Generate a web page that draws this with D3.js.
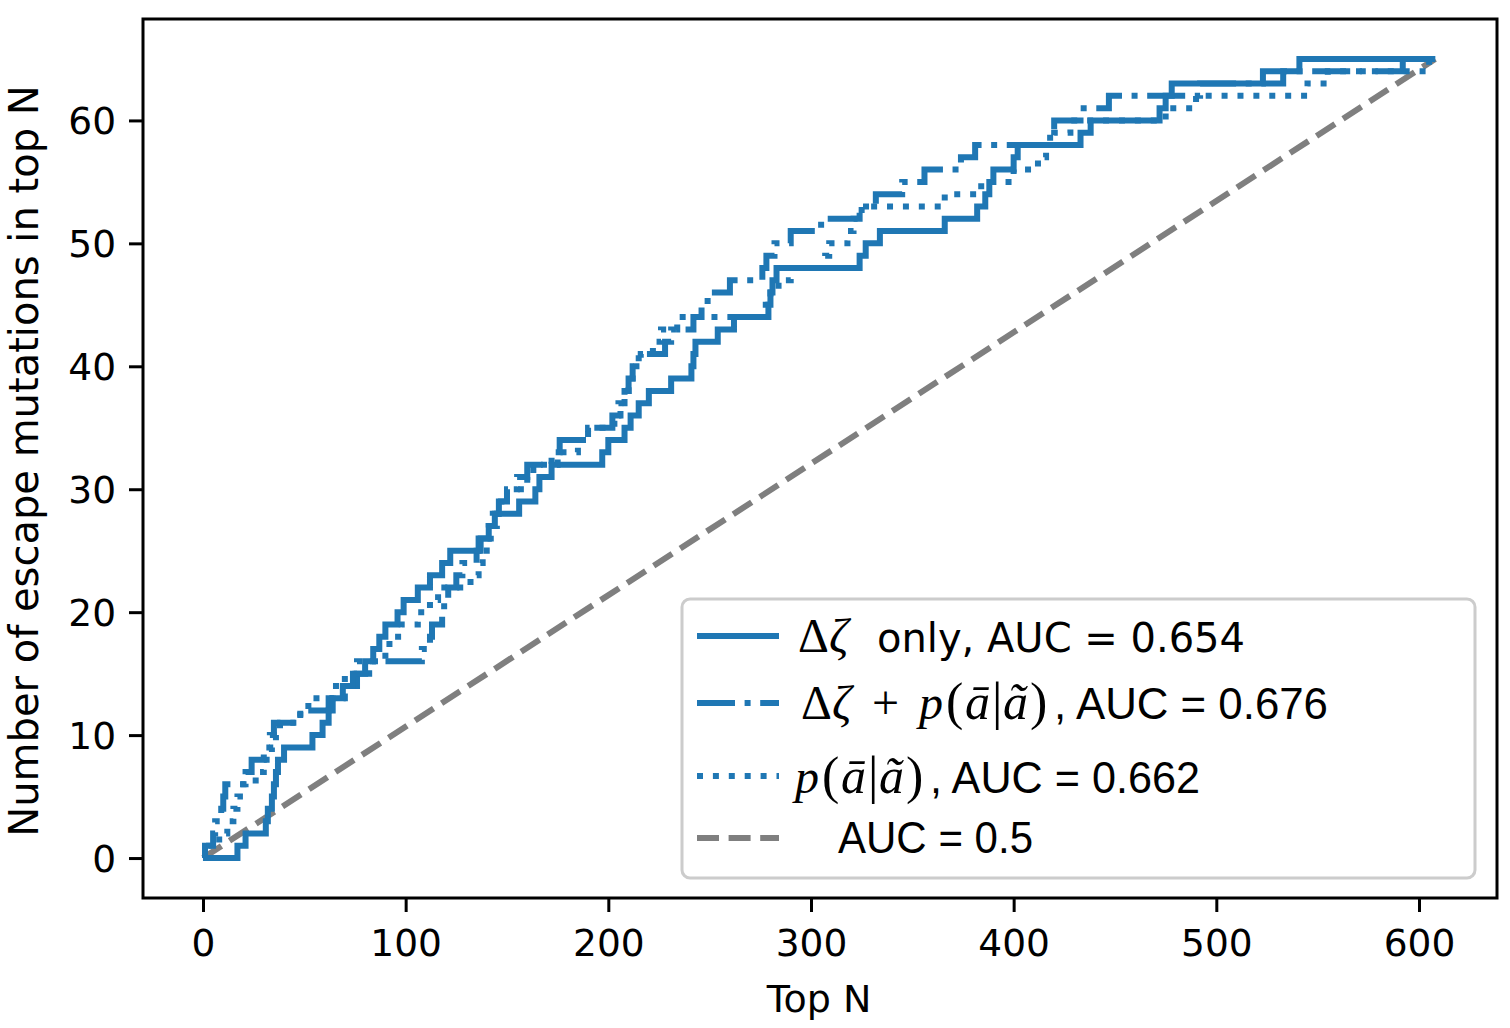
<!DOCTYPE html>
<html>
<head>
<meta charset="utf-8">
<script src="https://cdn.jsdelivr.net/npm/d3@7"></script>
<style>
  body { margin: 0; background: #fff; }
  text { font-family: "DejaVu Sans", sans-serif; }
</style>
</head>
<body>
<svg id="chart" width="1510" height="1028"></svg>
<script>
// step data: N where the count steps up, and the new count
const zetaN     = [0, 17, 21, 31, 32, 34, 35, 36, 37, 40, 54, 59, 62, 64, 69, 74, 80, 84, 87, 90, 96, 99, 106, 112, 118, 122, 136, 141, 144, 156, 164, 166, 172, 197, 200, 208, 211, 215, 220, 231, 241, 242, 243, 254, 262, 279, 280, 281, 283, 324, 327, 334, 366, 382, 386, 388, 390, 400, 402, 433, 438, 472, 475, 478, 523, 541, 608];
const zetaCount = [0, 1, 2, 3, 4, 5, 6, 7, 8, 9, 10, 11, 12, 13, 14, 15, 16, 17, 18, 19, 20, 21, 22, 23, 24, 25, 26, 27, 28, 29, 30, 31, 32, 33, 34, 35, 36, 37, 38, 39, 40, 41, 42, 43, 44, 45, 46, 47, 48, 49, 50, 51, 52, 53, 54, 55, 56, 57, 58, 59, 60, 61, 62, 63, 64, 65, 65];

const bothN     = [0, 1, 5, 6, 9, 10, 11, 21, 24, 30, 33, 35, 48, 62, 70, 76, 82, 108, 112, 113, 118, 119, 121, 125, 128, 135, 137, 141, 143, 146, 150, 155, 160, 172, 176, 190, 202, 205, 208, 210, 212, 215, 228, 231, 242, 246, 249, 260, 276, 278, 282, 290, 305, 324, 332, 345, 356, 374, 381, 418, 420, 433, 447, 492, 533, 592, 608];
const bothCount = [0, 1, 2, 3, 4, 5, 6, 7, 8, 9, 10, 11, 12, 13, 14, 15, 16, 17, 18, 19, 20, 21, 22, 23, 24, 25, 26, 27, 28, 29, 30, 31, 32, 33, 34, 35, 36, 37, 38, 39, 40, 41, 42, 43, 44, 45, 46, 47, 48, 49, 50, 51, 52, 53, 54, 55, 56, 57, 58, 59, 60, 61, 62, 63, 64, 65, 65];

const probN     = [0, 3, 8, 12, 15, 17, 20, 26, 30, 34, 36, 38, 48, 52, 64, 70, 76, 90, 92, 98, 106, 112, 116, 132, 136, 138, 140, 142, 145, 147, 150, 160, 163, 175, 185, 190, 203, 206, 208, 210, 212, 216, 222, 226, 234, 276, 280, 284, 290, 307, 309, 318, 321, 325, 366, 384, 400, 412, 416, 420, 428, 475, 490, 545, 555, 605, 608];
const probCount = [0, 1, 2, 3, 4, 5, 6, 7, 8, 9, 10, 11, 12, 13, 14, 15, 16, 17, 18, 19, 20, 21, 22, 23, 24, 25, 26, 27, 28, 29, 30, 31, 32, 33, 34, 35, 36, 37, 38, 39, 40, 41, 42, 43, 44, 45, 46, 47, 48, 49, 50, 51, 52, 53, 54, 55, 56, 57, 58, 59, 60, 61, 62, 63, 64, 65, 65];

const randomN     = [0, 608];
const randomCount = [0, 65];

const xTicks = [0, 100, 200, 300, 400, 500, 600];
const yTicks = [0, 10, 20, 30, 40, 50, 60];

const blue = "#1f77b4";
const grey = "#7f7f7f";

const svg = d3.select("#chart");
svg.append("rect").attr("width", 1510).attr("height", 1028).attr("fill", "#fff");

const plot = { left: 143, right: 1497, top: 19, bottom: 898 };

const x = d3.scaleLinear().domain([-29.6, 638.5]).range([plot.left, plot.right]);
const y = d3.scaleLinear().domain([-3.25, 68.25]).range([plot.bottom, plot.top]);

const zip = (xs, ys) => xs.map((v, i) => [v, ys[i]]);

const stepLine = d3.line()
  .x(d => x(d[0]))
  .y(d => y(d[1]))
  .curve(d3.curveStepAfter);

const straight = d3.line().x(d => x(d[0])).y(d => y(d[1]));

const series = [
  { data: zip(zetaN, zetaCount), dash: null, color: blue, w: 6, line: stepLine },
  { data: zip(bothN, bothCount), dash: "38,9.6,6,9.6", color: blue, w: 6, line: stepLine },
  { data: zip(probN, probCount), dash: "6,9.9", color: blue, w: 6, line: stepLine },
  { data: zip(randomN, randomCount), dash: "22,9.6", color: grey, w: 6, line: straight }
];

series.slice().reverse().forEach(s => {
  svg.append("path")
    .datum(s.data)
    .attr("d", s.line)
    .attr("fill", "none")
    .attr("stroke", s.color)
    .attr("stroke-width", s.w)
    .attr("stroke-linecap", "butt")
    .attr("stroke-linejoin", "miter")
    .attr("stroke-dasharray", s.dash);
});

// axes
const xAxis = svg.append("g")
  .attr("transform", `translate(0,${plot.bottom})`)
  .call(d3.axisBottom(x).tickValues(xTicks).tickSize(14).tickPadding(15));
const yAxis = svg.append("g")
  .attr("transform", `translate(${plot.left},0)`)
  .call(d3.axisLeft(y).tickValues(yTicks).tickSize(14).tickPadding(13));

[xAxis, yAxis].forEach(g => {
  g.select(".domain").remove();
  g.selectAll(".tick line").attr("stroke", "#000").attr("stroke-width", 3);
  g.selectAll(".tick text")
    .attr("fill", "#000")
    .style("font-family", "DejaVu Sans")
    .style("font-size", "37.5px");
});
xAxis.selectAll(".tick text").attr("dy", "0.78em");
yAxis.selectAll(".tick text").attr("dy", "0.36em");

svg.append("rect")
  .attr("x", plot.left).attr("y", plot.top)
  .attr("width", plot.right - plot.left).attr("height", plot.bottom - plot.top)
  .attr("fill", "none").attr("stroke", "#000").attr("stroke-width", 3);

svg.append("text")
  .attr("x", 819).attr("y", 1012)
  .attr("text-anchor", "middle")
  .style("font-size", "38px")
  .text("Top N");

svg.append("text")
  .attr("transform", "translate(38,461) rotate(-90)")
  .attr("text-anchor", "middle")
  .style("font-size", "40px")
  .text("Number of escape mutations in top N");

// legend
const legend = svg.append("g");
legend.append("rect")
  .attr("x", 682).attr("y", 599).attr("width", 793).attr("height", 279)
  .attr("rx", 8).attr("ry", 8)
  .attr("fill", "#fff").attr("fill-opacity", 0.8)
  .attr("stroke", "#cccccc").attr("stroke-width", 3);

const handleY = [636, 703, 776, 838];
series.forEach((s, i) => {
  legend.append("line")
    .attr("x1", 697).attr("x2", 779)
    .attr("y1", handleY[i]).attr("y2", handleY[i])
    .attr("stroke", s.color).attr("stroke-width", s.w)
    .attr("stroke-dasharray", s.dash);
});

const serif = "Liberation Serif, DejaVu Serif, serif";
function mathText(glyphs, baseline) {
  const t = legend.append("text")
    .attr("y", baseline)
    .style("font-family", serif)
    .style("font-size", "48px");
  glyphs.forEach(g => {
    t.append("tspan")
      .attr("x", g[1])
      .style("font-style", g[2] ? "italic" : "normal")
      .style("font-size", g[3] ? g[3] + "px" : null)
      .text(g[0]);
  });
}
function plainText(str, x0, baseline, width, size, family) {
  legend.append("text")
    .attr("x", x0).attr("y", baseline)
    .attr("textLength", width).attr("lengthAdjust", "spacingAndGlyphs")
    .style("font-family", family)
    .style("font-size", size + "px")
    .text(str);
}

mathText([["Δ", 798, false], ["ζ", 829, true]], 652);
plainText("only, AUC = 0.654", 877, 652, 368, 40, "DejaVu Sans");

mathText([["Δ", 801, false], ["ζ", 832, true], ["+", 872, false], ["p", 919, true], ["(", 946, false, 52],
          ["ā", 965, true, 50], ["|", 992, false, 52], ["ã", 1003, true, 50], [")", 1030, false, 52]], 719);
plainText(", AUC = 0.676", 1054, 719, 274, 45, "Liberation Sans");

mathText([["p", 795, true], ["(", 822, false, 52], ["ā", 841, true, 50], ["|", 868, false, 52], ["ã", 879, true, 50], [")", 906, false, 52]], 793);
plainText(", AUC = 0.662", 930, 793, 270, 45, "Liberation Sans");

plainText("AUC = 0.5", 838, 853, 195, 45, "Liberation Sans");
</script>
</body>
</html>
